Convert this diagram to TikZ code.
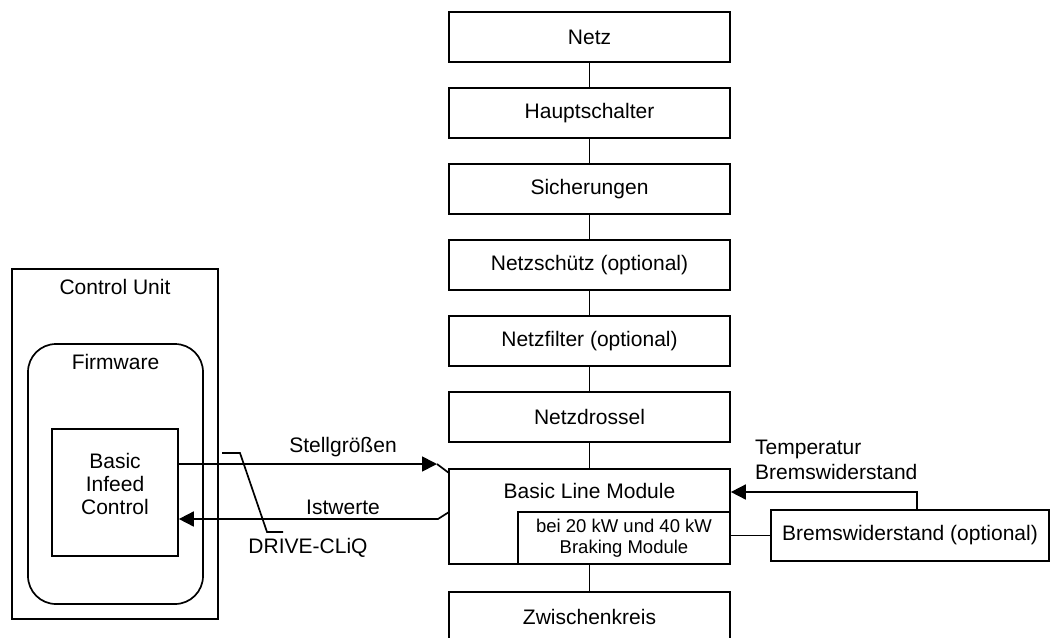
\documentclass[tikz,border=0pt]{standalone}
\usepackage{fontspec}
\setmainfont{Liberation Sans}
\usetikzlibrary{arrows.meta}
\begin{document}
\begin{tikzpicture}[x=1pt,y=-1pt,
  line width=1.7pt,
  txt/.style={font=\fontsize{21}{23}\selectfont},
  chainbox/.style={draw,txt,minimum width=281pt,minimum height=50pt,inner sep=0pt},
  plainbox/.style={draw,inner sep=0pt},
  tip/.style={-{Triangle[length=15pt,width=15pt]}},
]
\useasboundingbox (0,0) rectangle (1051,637);
\clip (0,0) rectangle (1051,637);

% supply chain, top to bottom
\node[chainbox] (netz)    at (589.5,37)  {Netz};
\node[chainbox] (haupt)   at (589.5,113) {Hauptschalter};
\node[chainbox] (sich)    at (589.5,189) {Sicherungen};
\node[chainbox] (schuetz) at (589.5,265) {Netzschütz (optional)};
\node[chainbox] (filter)  at (589.5,341) {Netzfilter (optional)};
\node[chainbox] (drossel) at (589.5,417) {Netzdrossel};
\node[plainbox,minimum width=281pt,minimum height=95pt] (blm) at (589.5,516.5) {};
\node[txt] (blmlabel) at (589.5,491) {Basic Line Module};
\node[plainbox,minimum width=212pt,minimum height=52pt,align=center,
      font=\fontsize{18.5}{21.5}\selectfont] (brake) at (624,538)
      {bei 20 kW und 40 kW\\Braking Module};
\node[chainbox] (zk) at (589.5,617) {Zwischenkreis};

\draw (netz) -- (haupt);
\draw (haupt) -- (sich);
\draw (sich) -- (schuetz);
\draw (schuetz) -- (filter);
\draw (filter) -- (drossel);
\draw (drossel) -- (blm);
\draw (blm) -- (zk);

% braking resistor
\node[plainbox,txt,minimum width=278pt,minimum height=51pt] (bw) at (910,535.5)
      {Bremswiderstand (optional)};
\draw (brake.east |- bw.west) -- (bw.west);
\coordinate (bwup) at (917,492);
\draw[tip] (bw.north -| bwup) -- (bwup) -- (blm.east |- bwup);
\node[txt,align=left,anchor=west,font=\fontsize{21}{25}\selectfont] (temp) at (751,459.5)
      {Temperatur\\Bremswiderstand};

% control unit
\node[plainbox,minimum width=206pt,minimum height=350pt] (cu) at (115,444) {};
\node[txt] (culabel) at (115,287) {Control Unit};
\node[plainbox,rounded corners=28pt,minimum width=175pt,minimum height=260pt] (fw) at (115.5,474) {};
\node[txt] (fwlabel) at (115.5,362) {Firmware};
\node[plainbox,minimum width=126pt,minimum height=127pt] (bic) at (115,492.5) {};
\node[txt,align=center] (biclabel) at (115,484) {Basic\\Infeed\\Control};

% setpoints and actual values
\coordinate (sgtip) at (437,464);
\coordinate (sgend) at (449,473);
\draw[tip] (bic.east |- sgtip) -- (sgtip);
\draw (sgtip) -- (sgend);
\node[txt] (sglabel) at (343,447) {Stellgrößen};

\coordinate (iwstart) at (449,512);
\coordinate (iwbend) at (438,519);
\draw[tip] (iwstart) -- (iwbend) -- (bic.east |- iwbend);
\node[txt] (iwlabel) at (343,507) {Istwerte};

% DRIVE-CLiQ leader
\node[txt] (dcl) at (308,548) {DRIVE-CLiQ};
\coordinate (dca) at (222,453);
\coordinate (dcb) at (240,453);
\coordinate (dcc) at (267,532);
\coordinate (dcd) at (283,532);
\draw (dca) -- (dcb) -- (dcc) -- (dcd);
\end{tikzpicture}
\end{document}
